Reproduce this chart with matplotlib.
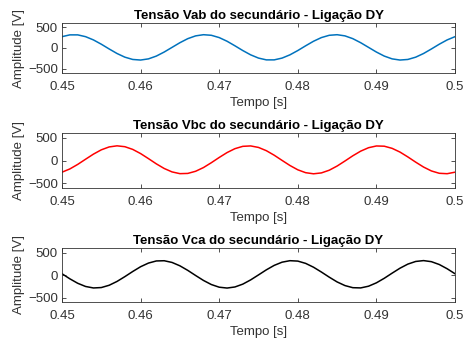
import matplotlib
matplotlib.use("Agg")
import matplotlib.pyplot as plt
import numpy as np

# tempo [s], um ponto a cada 1 ms
tempo = [0.450 + 0.001 * k for k in range(51)]

# valores [V]
vab = [272, 315, 315, 272, 194, 91, -23, -132, -220, -275,
       -289, -261, -194, -97, 15, 127, 224, 291, 319, 305,
       250, 162, 53, -61, -164, -242, -285, -285, -242, -164,
       -61, 53, 162, 250, 305, 319, 291, 224, 127, 15,
       -97, -194, -261, -289, -275, -220, -132, -23, 91, 194,
       272]
vbc = [-255, -184, -85, 28, 139, 233, 296, 320, 301, 242,
       151, 41, -73, -174, -249, -287, -282, -235, -154, -48,
       66, 173, 258, 309, 318, 285, 214, 115, 2, -109,
       -203, -266, -290, -271, -212, -121, -11, 103, 204, 279,
       317, 312, 265, 184, 78, -36, -143, -228, -279, -288,
       -255]
vca = [28, -85, -184, -255, -288, -279, -228, -143, -36, 78,
       184, 265, 312, 317, 279, 204, 103, -11, -121, -212,
       -271, -290, -266, -203, -109, 2, 115, 214, 285, 318,
       309, 258, 173, 66, -48, -154, -235, -282, -287, -249,
       -174, -73, 41, 151, 242, 301, 320, 296, 233, 139,
       28]

titulos = ['Tensão Vab do secundário - Ligação DY',
           'Tensão Vbc do secundário - Ligação DY',
           'Tensão Vca do secundário - Ligação DY']
cores = ['#0072BD', '#FF0000', '#000000']
series = [vab, vbc, vca]

plt.rcParams['font.family'] = ['Liberation Sans', 'DejaVu Sans']

fig = plt.figure(figsize=(4.67, 3.45), dpi=100)
W, H = 467, 345
tops = [23, 133, 248]
bots = [73, 188, 302]
cinza = '#333333'

for i in range(3):
    ax = fig.add_axes([62 / W, 1 - bots[i] / H, (455 - 62) / W, (bots[i] - tops[i]) / H])
    ax.plot(tempo, series[i], color=cores[i], lw=1.1)
    ax.set_xlim(0.45, 0.5)
    ax.set_ylim(-600, 600)
    ax.set_xticks([0.45, 0.46, 0.47, 0.48, 0.49, 0.5])
    ax.set_xticklabels(['0.45', '0.46', '0.47', '0.48', '0.49', '0.5'])
    ax.set_yticks([-500, 0, 500])
    ax.tick_params(direction='in', top=True, right=True, length=3, width=0.6,
                   labelsize=9.5, colors=cinza)
    ax.tick_params(axis='x', pad=6)
    ax.tick_params(axis='y', pad=3)
    for s in ax.spines.values():
        s.set_color(cinza)
        s.set_linewidth(0.6)
    ax.set_title(titulos[i], fontsize=9.5, fontweight='bold', pad=3)
    ax.set_xlabel('Tempo [s]', fontsize=9.5, color=cinza, labelpad=3)
    ax.set_ylabel('Amplitude [V]', fontsize=9.5, color=cinza, labelpad=2)

fig.savefig('out.png', dpi=100)
